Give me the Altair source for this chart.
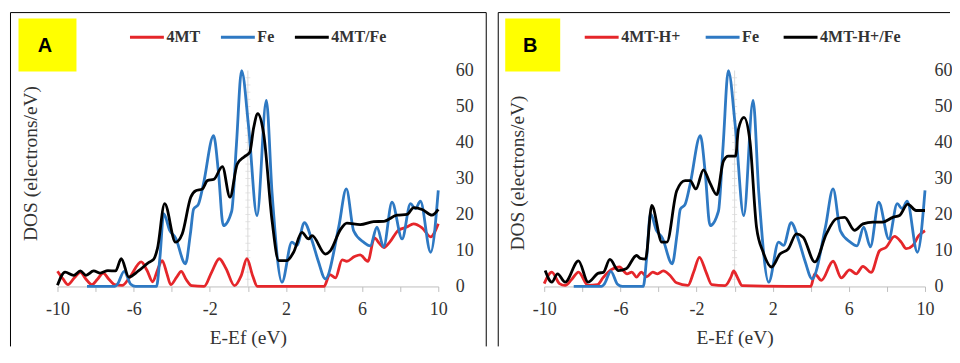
import altair as alt
import pandas as pd

# ---------------- data ----------------
FE_X = [-8.45, -7.0, -6.85, -6.5, -6.15, -5.9, -4.8, -4.62, -4.42, -4.1, -3.8, -3.28, -3.02, -2.85,
        -2.6, -2.34, -1.8, -1.55, -1.29, -0.85, -0.6, -0.33, 0.04, 0.48, 0.97, 1.27, 1.79, 2.31,
        2.57, 2.97, 3.37, 3.7, 4.07, 4.77, 5.17, 5.56, 6.08, 6.43, 6.78, 7.13, 7.57, 8.1, 8.54,
        8.8, 9.06, 9.6, 10.0]
FE_Y = [0, 0, 0.6, 4.2, 0.6, 0, 0, 8, 20.2, 15.5, 13.5, 6.3, 14.6, 21.5,
        22.8, 28.3, 41.9, 32, 16.9, 20.9, 39.5, 60, 44.3, 19.7, 51.7, 26, 1.2, 12.3,
        11.4, 17.7, 12.7, 7, 2.1, 16.5, 27.1, 15.4, 12.3, 11.3, 16.5, 11, 23.4, 13.2, 23,
        21.6, 23.7, 9.5, 26.7]

A_4MT_X = [-10.0, -9.7, -9.45, -9.1, -8.8, -8.5, -8.2, -7.9, -7.6, -7.3, -7.0, -6.6, -6.2, -5.6,
           -5.3, -5.0, -4.75, -4.5, -4.25, -4.05, -3.75, -3.5, -3.25, -2.95, -2.3, -1.9, -1.5,
           -1.15, -0.7, -0.35, -0.05, 0.25, 0.5, 4.0, 4.3, 4.6, 4.95, 5.2, 5.6, 5.9, 6.3, 6.65,
           6.9, 7.15, 7.45, 7.9, 8.35, 8.7, 9.15, 9.6, 10.0]
A_4MT_Y = [4.2, 2.0, 0.5, 2.5, 3.9, 2.0, 0.5, 2.0, 3.7, 2.0, 0.5, 0.3, 2.6, 6.8,
           4.5, 1.3, 4.5, 7.2, 3.5, 0.5, 2.5, 4.2, 2.0, 0.2, 0, 4.0, 7.7,
           5.0, 0.2, 3.0, 7.7, 3.0, 0, 0, 3.3, 2.4, 7.4, 7.0, 8.3, 8.8, 7.0, 13.5,
           12.0, 10.8, 12.3, 15.6, 16.5, 17.4, 16.3, 13.8, 17.4]

A_MIX_X = [-10.0, -9.6, -9.15, -8.8, -8.5, -8.1, -7.75, -7.35, -6.95, -6.65, -6.25, -5.75, -5.2,
           -4.95, -4.75, -4.37, -3.8, -3.45, -3.0, -2.74, -2.39, -2.13, -1.78, -1.34, -0.94,
           -0.56, -0.2, 0.1, 0.3, 0.52, 0.83, 1.27, 1.62, 2.05, 2.4, 2.84, 3.19, 3.37, 4.07,
           4.33, 4.86, 5.2, 5.9, 6.6, 7.13, 7.83, 8.36, 8.71, 9.15, 9.67, 10.0]
A_MIX_Y = [0.3, 4.0, 3.1, 4.3, 3.1, 4.3, 3.7, 4.4, 4.3, 7.7, 2.6, 4.3, 6.7,
           7.5, 10.5, 23, 12.3, 14.6, 24.8, 26.6, 27.1, 29.4, 29.8, 33.3, 24.8,
           34, 36, 37.3, 44, 48, 42.4, 18.3, 7.2, 7.2, 9.5, 15, 13.2, 14.1, 9.0,
           9.9, 15.8, 17.6, 17.2, 18, 18.1, 19.8, 20, 21.9, 21.4, 19.8, 21.4]

B_4MTH_X = [-10.0, -9.6, -9.2, -8.9, -8.55, -8.2, -7.7, -7.2, -6.9, -6.5, -6.05, -5.65, -5.4,
            -5.15, -4.9, -4.62, -4.3, -4.05, -3.75, -3.4, -3.05, -2.45, -2.15, -1.85, -1.5,
            -1.2, -0.5, -0.2, -0.05, 0.15, 0.4, 4.0, 4.21, 4.56, 5.17, 5.6, 6.04, 6.39, 6.74,
            7.17, 7.61, 7.96, 8.4, 8.75, 9.01, 9.36, 9.67, 10.0]
B_4MTH_Y = [0.8, 4.0, 0.8, 0.3, 2.0, 4.0, 0.3, 0.5, 2.5, 4.6, 5.4, 3.5, 4.0,
            2.6, 4.0, 2.7, 4.0, 3.5, 4.3, 3.1, 1.0, 0.3, 4.0, 8.1, 4.0,
            0.5, 0.2, 2.5, 4.3, 2.5, 0.2, 0, 3.5, 1.7, 7.0, 2.4, 4.6, 3.5, 5.6,
            3.9, 9.9, 10.9, 13.9, 12.3, 10.5, 11.4, 14.1, 15.5]

B_MIX_X = [-9.95, -9.6, -9.3, -8.9, -8.2, -7.7, -7.15, -6.9, -6.55, -6.1, -5.7, -5.15, -4.95,
           -4.68, -4.35, -3.82, -3.56, -3.04, -2.6, -2.34, -2.03, -1.64, -1.29, -0.94, -0.59,
           -0.33, 0.05, 0.2, 0.49, 0.8, 1.15, 1.5, 1.94, 2.38, 2.81, 3.25, 3.6, 4.21, 4.82,
           5.34, 5.78, 6.3, 6.74, 7.26, 7.78, 8.31, 8.66, 9.09, 9.53, 10.0]
B_MIX_Y = [4.4, 1.2, 3.5, 1.2, 7.1, 1.2, 3.7, 3.9, 7.5, 4.4, 4.9, 8.6, 7.8,
           7.6, 22.5, 12.3, 12.3, 26.6, 29.4, 29.4, 27.1, 32.4, 28.7, 25.5, 34.8,
           36.2, 36.2, 43.7, 47, 40.6, 16.5, 9.5, 5.4, 9.0, 10.4, 14.6, 13.7, 6.8, 14.6,
           18.8, 19.2, 15.6, 17.4, 17.9, 17.9, 19.2, 19.7, 22.9, 21.1, 21.1]

SERIES_A = ["4MT", "Fe", "4MT/Fe"]
SERIES_B = ["4MT-H+", "Fe", "4MT-H+/Fe"]
COLORS = ["#E5262A", "#2E79C3", "#000000"]
X_TICKS = [-10, -8, -6, -4, -2, 0, 2, 4, 6, 8, 10]
Y_TICKS = [0, 10, 20, 30, 40, 50, 60]
ZERO_AXIS_TICKS = list(range(2, 60, 2))
X_TITLE = "E-Ef (eV)"
Y_TITLE = "DOS (electrons/eV)"

SERIF = "Liberation Serif"
TXT = "#333333"
W, H = 381, 216


def panel(letter, names, xs_list, ys_list, legend_x, col_pad, title_y, ylab_pad,
          frame_x, frame_x2, right_side, box_x, box_x2, letter_x):
    rows = []
    for name, xs, ys in zip(names, xs_list, ys_list):
        for x, y in zip(xs, ys):
            rows.append({"series": name, "x": x, "y": y})
    df = pd.DataFrame(rows)

    xscale = alt.Scale(domain=[-10, 10], nice=False)
    yscale = alt.Scale(domain=[0, 60], nice=False)
    xaxis = alt.Axis(
        values=X_TICKS, title=X_TITLE, grid=False, labelFlush=False, labelOverlap=False,
        labelExpr="abs(datum.value) % 4 == 2 ? (datum.value < 0 ? '-' + abs(datum.value) : '' + datum.value) : ''",
        domainColor="#BFBFBF", tickColor="#BFBFBF", tickSize=5, labelPadding=9,
        labelFont=SERIF, labelFontSize=18, labelColor=TXT,
        titleFont=SERIF, titleFontSize=19.5, titleFontWeight="normal", titleColor=TXT,
        titlePadding=10,
    )
    yaxis_right = alt.Axis(
        orient="right", values=Y_TICKS, ticks=False, tickSize=0, domain=False, grid=False,
        labelFlush=False, labelOverlap=False,
        labelPadding=ylab_pad, labelFont=SERIF, labelFontSize=18, labelColor=TXT, title=None,
    )
    yaxis_left = alt.Axis(
        orient="left", labels=False, ticks=False, domain=False, grid=False,
        title=Y_TITLE, titleFont=SERIF, titleFontSize=19.5, titleFontWeight="normal",
        titleColor=TXT, titleX=-17, titleY=title_y,
    )
    legend = alt.Legend(
        orient="none", legendX=legend_x, legendY=-52, direction="horizontal", title=None,
        symbolType="stroke", symbolStrokeWidth=3, symbolSize=1150,
        labelFont=SERIF, labelFontWeight="bold", labelFontSize=16, labelColor=TXT,
        labelOffset=1, columnPadding=col_pad, padding=0,
    )
    color = alt.Color("series:N", scale=alt.Scale(domain=names, range=COLORS), legend=legend)

    one = alt.Data(values=[{"label": letter}])
    bottom = 276
    frame = [
        alt.Chart(one).mark_rule(color="black", strokeWidth=1).encode(
            x=alt.value(frame_x), x2=alt.value(frame_x2), y=alt.value(-58)),
        alt.Chart(one).mark_rule(color="black", strokeWidth=1).encode(
            x=alt.value(frame_x), y=alt.value(-58), y2=alt.value(bottom)),
    ]
    if right_side:
        frame.append(alt.Chart(one).mark_rule(color="black", strokeWidth=1).encode(
            x=alt.value(frame_x2), y=alt.value(-58), y2=alt.value(bottom)))
    box = alt.Chart(one).mark_rect(color="#FFFF00").encode(
        x=alt.value(box_x), x2=alt.value(box_x2), y=alt.value(-52), y2=alt.value(1)
    )
    text = alt.Chart(one).mark_text(
        font="Liberation Sans", fontWeight="bold", fontSize=20, color="black",
        align="center", baseline="middle"
    ).encode(text="label:N", x=alt.value(letter_x), y=alt.value(-24.5))

    zero = alt.Chart(alt.Data(values=[{"x": 0, "y": 0, "y2": 60}])).mark_rule(
        color="#D9D9D9", strokeWidth=1
    ).encode(
        x=alt.X("x:Q", scale=xscale, axis=xaxis),
        y=alt.Y("y:Q", scale=yscale, axis=yaxis_left),
        y2="y2:Q",
    )
    zticks = alt.Chart(alt.Data(values=[{"x": 0, "y": v} for v in ZERO_AXIS_TICKS])).mark_tick(
        orient="horizontal", color="#D9D9D9", size=5, thickness=1
    ).encode(
        x=alt.X("x:Q", scale=xscale, axis=xaxis),
        y=alt.Y("y:Q", scale=yscale, axis=None),
    )

    lines = []
    for i, name in enumerate(names):
        lines.append(
            alt.Chart(df).transform_filter(alt.datum.series == name).mark_line(
                strokeWidth=2.8, interpolate="monotone"
            ).encode(
                x=alt.X("x:Q", scale=xscale, axis=xaxis),
                y=alt.Y("y:Q", scale=yscale, axis=yaxis_right if i == 0 else None),
                color=color,
                order=alt.Order("x:Q"),
            )
        )

    return alt.layer(*frame, box, text, zero, zticks, *lines).resolve_axis(
        y="independent"
    ).properties(width=W, height=H)


pa = panel("A", SERIES_A, [A_4MT_X, FE_X, A_MIX_X], [A_4MT_Y, FE_Y, A_MIX_Y],
           legend_x=71, col_pad=14, title_y=92.5, ylab_pad=17,
           frame_x=-47, frame_x2=429, right_side=True, box_x=-39, box_x2=19, letter_x=-12.5)
pb = panel("B", SERIES_B, [B_4MTH_X, FE_X, B_MIX_X], [B_4MTH_Y, FE_Y, B_MIX_Y],
           legend_x=39, col_pad=18, title_y=102, ylab_pad=9,
           frame_x=-46, frame_x2=406, right_side=False, box_x=-39, box_x2=16, letter_x=-14)

chart = alt.hconcat(pa, pb, spacing=106, bounds="flush").resolve_scale(
    color="independent", x="independent", y="independent"
).resolve_legend(color="independent").properties(
    padding={"left": 1.5, "top": 3.5, "right": 0, "bottom": 0},
    background="white",
).configure_view(stroke=None)

chart.save("out.html", embed_options={"renderer": "svg", "actions": False})
